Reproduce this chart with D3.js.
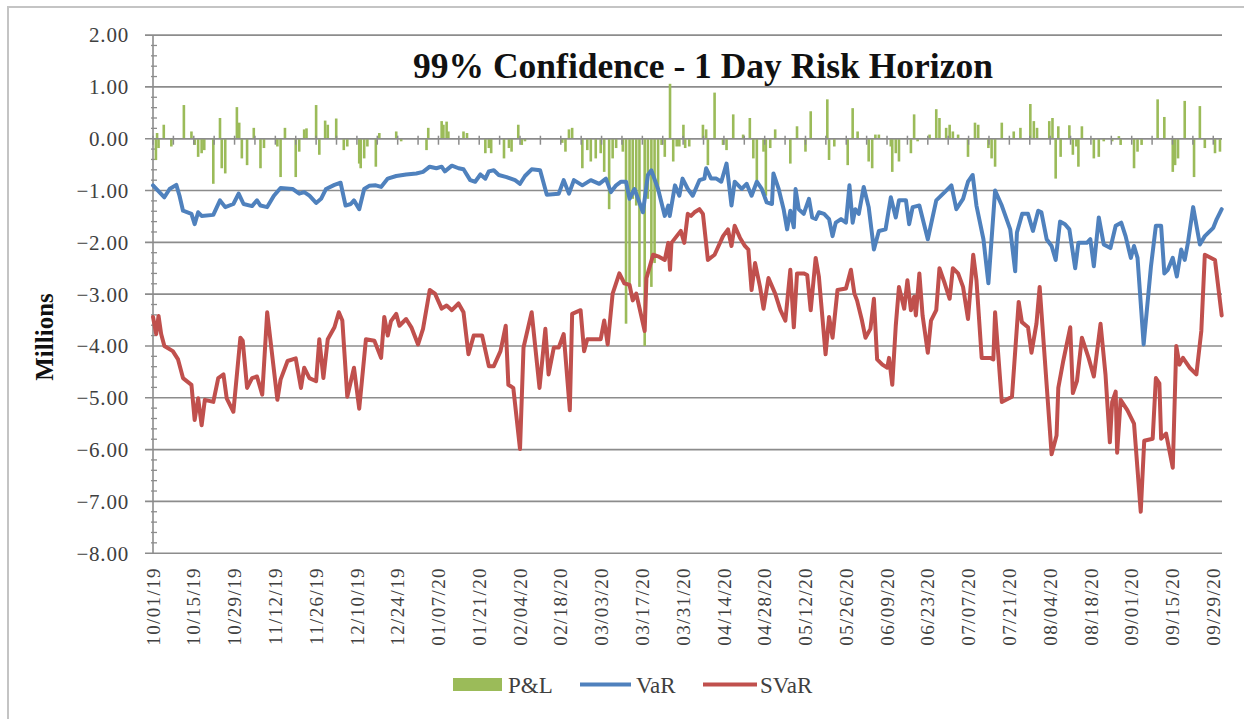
<!DOCTYPE html>
<html><head><meta charset="utf-8">
<script src="https://cdn.jsdelivr.net/npm/d3@7"></script>
<style>body{margin:0;background:#fff;} svg{display:block;}</style>
</head><body>
<svg id="c" width="1244" height="719"></svg>
<script>
// ---- data (days since 10/01/19, values in millions) ----
const tickLabels = ["10/01/19","10/15/19","10/29/19","11/12/19","11/26/19","12/10/19","12/24/19","01/07/20","01/21/20","02/04/20","02/18/20","03/03/20","03/17/20","03/31/20","04/14/20","04/28/20","05/12/20","05/26/20","06/09/20","06/23/20","07/07/20","07/21/20","08/04/20","08/18/20","09/01/20","09/15/20","09/29/20"];
const yTicks = [2,1,0,-1,-2,-3,-4,-5,-6,-7,-8];
const seriesNames = ["P&L","VaR","SVaR"];

const varDay = [0,3.9,5.7,8.0,9.1,10.3,13.2,14.3,15.5,16.7,20.7,23.0,24.8,27.6,29.4,31.1,34.0,35.7,36.9,39.2,41.5,43.8,47.9,50.2,51.9,53.7,56.0,57.7,59.4,62.3,64.4,66.1,67.9,69.0,70.8,72.5,74.2,76.5,78.3,80.6,83.5,86.9,90.4,92.7,95.0,97.3,99.1,100.2,102.6,104.9,106.6,108.9,110.6,112.4,114.1,115.3,117.0,118.7,121.4,124.3,126.0,127.7,130.0,132.9,135.2,139.3,141.0,142.8,144.5,147.4,150.3,153.2,155.5,157.2,159.0,160.7,162.4,163.6,165.3,168.2,169.9,171.1,173.4,175.7,176.9,177.4,179.2,180.7,181.8,183.6,185.3,187.6,189.3,189.9,191.6,193.4,195.1,196.9,198.6,199.7,202.1,203.8,205.5,207.3,209.0,210.7,212.5,213.0,214.8,216.5,217.7,218.8,220.0,220.6,221.7,223.4,225.2,226.3,227.5,228.6,230.4,232.1,233.3,234.4,236.2,237.9,239.1,240.2,241.1,242.3,244.0,245.7,247.5,249.2,251.5,253.3,255.0,256.1,258.5,259.6,260.8,263.1,266.0,268.9,271.8,274.1,275.8,278.1,279.8,281.4,282.7,285.1,286.8,289.1,291.4,294.3,296.0,296.6,298.4,300.4,302.1,303.9,305.0,306.8,308.5,309.9,311.4,313.1,314.6,316.6,317.7,320.6,321.8,323.0,324.7,326.4,328.7,330.5,332.4,333.9,335.7,336.8,338.0,340.1,342.6,344.3,346.1,347.2,348.4,350.1,351.5,353.0,354.2,355.3,357.1,359.4,361.1,364.0,365.2,366.9];
const varVal = [-0.90,-1.13,-0.97,-0.89,-1.10,-1.39,-1.45,-1.65,-1.42,-1.49,-1.47,-1.19,-1.32,-1.26,-1.06,-1.26,-1.30,-1.19,-1.29,-1.32,-1.10,-0.95,-0.97,-1.06,-1.03,-1.10,-1.24,-1.16,-0.97,-0.89,-0.85,-1.29,-1.26,-1.19,-1.36,-0.97,-0.91,-0.90,-0.93,-0.77,-0.72,-0.69,-0.67,-0.64,-0.54,-0.57,-0.54,-0.63,-0.52,-0.57,-0.59,-0.80,-0.83,-0.69,-0.77,-0.63,-0.61,-0.70,-0.74,-0.80,-0.87,-0.72,-0.59,-0.61,-1.08,-1.06,-0.80,-1.06,-0.80,-0.90,-0.80,-0.87,-0.77,-1.03,-0.90,-0.83,-0.83,-1.16,-0.97,-1.42,-0.70,-0.61,-0.97,-1.49,-1.29,-1.49,-0.90,-1.10,-0.77,-0.97,-1.10,-0.80,-0.77,-0.57,-0.77,-0.77,-0.83,-0.48,-1.29,-0.83,-0.97,-0.87,-1.10,-0.83,-0.97,-1.23,-1.26,-0.67,-0.97,-1.36,-1.75,-1.39,-1.71,-0.97,-1.36,-1.45,-1.16,-1.52,-1.55,-1.42,-1.45,-1.55,-1.88,-1.62,-1.55,-1.62,-0.90,-1.62,-1.36,-1.45,-0.93,-1.32,-2.14,-1.78,-1.75,-1.13,-1.52,-1.19,-1.19,-1.65,-1.32,-1.29,-1.94,-1.19,-1.03,-0.90,-1.36,-1.16,-0.83,-0.70,-1.29,-1.94,-2.79,-1.00,-1.29,-1.75,-2.56,-1.81,-1.45,-1.45,-1.78,-1.39,-1.42,-1.94,-2.07,-2.34,-1.60,-1.65,-1.75,-2.50,-2.01,-2.01,-1.94,-2.46,-1.52,-2.04,-2.11,-1.68,-1.62,-1.88,-2.30,-2.07,-2.30,-3.97,-2.47,-1.68,-1.68,-2.60,-2.53,-2.30,-2.66,-2.14,-2.34,-2.01,-1.32,-2.04,-1.88,-1.72,-1.55,-1.36];

const svarDay = [0,1.1,1.9,2.8,3.9,6.8,8.6,10.3,13.2,14.3,15.5,16.7,17.8,20.7,22.4,24.2,25.3,27.6,30.0,30.8,32.3,34.0,35.7,37.5,39.2,42.7,43.8,46.2,49.0,50.8,51.9,53.7,56.0,57.1,58.5,60.0,62.3,63.8,65.0,66.7,69.0,70.8,73.1,76.0,78.3,79.4,80.6,81.7,83.5,84.6,86.9,88.7,91.0,92.7,95.0,96.8,99.1,100.8,102.6,104.9,106.6,108.3,110.1,113.0,115.3,117.0,119.3,121.1,122.0,123.7,126.0,127.2,130.0,132.7,134.7,135.8,137.6,139.3,141.0,143.1,143.9,146.8,148.0,149.1,151.4,153.7,154.9,156.1,157.8,160.1,161.8,163.6,164.7,165.9,168.8,169.4,171.7,173.4,175.7,176.9,177.5,178.0,179.8,181.2,182.4,183.6,184.7,185.9,187.6,188.8,190.5,192.8,195.7,197.4,198.6,199.7,201.5,203.2,204.4,205.5,206.7,208.4,209.6,211.3,213.6,215.4,217.1,218.8,220.0,221.1,223.4,224.6,225.8,227.5,228.6,229.8,230.9,232.1,233.3,235.0,237.9,239.6,240.8,241.7,243.4,244.6,246.3,247.5,248.6,250.4,252.1,252.7,253.8,255.0,256.1,257.9,259.0,260.2,261.3,261.9,263.1,264.2,266.0,267.1,268.9,270.0,271.8,273.5,274.6,276.4,278.1,279.8,281.6,282.7,284.5,287.4,288.5,289.1,291.4,294.9,297.2,298.3,300.4,301.6,303.3,304.4,306.8,308.5,310.2,310.8,312.5,314.9,315.8,317.2,318.9,321.2,323.0,325.3,327.0,328.5,329.3,330.5,331.0,332.2,334.5,336.8,339.1,340.3,343.2,344.3,345.5,346.1,347.8,350.1,351.3,352.4,353.6,355.9,358.2,359.9,361.1,364.6,366.9];
const svarVal = [-3.44,-3.77,-3.42,-3.77,-4.00,-4.10,-4.26,-4.62,-4.75,-5.43,-5.01,-5.53,-5.04,-5.08,-4.62,-4.55,-5.01,-5.27,-3.84,-3.90,-4.81,-4.62,-4.59,-4.94,-3.35,-5.04,-4.65,-4.29,-4.24,-4.81,-4.42,-4.62,-4.68,-3.87,-4.62,-3.87,-3.64,-3.35,-3.51,-4.98,-4.42,-5.21,-3.87,-3.90,-4.23,-3.44,-3.80,-3.52,-3.38,-3.61,-3.48,-3.64,-3.97,-3.67,-2.92,-2.99,-3.28,-3.22,-3.31,-3.18,-3.35,-4.16,-3.80,-3.80,-4.39,-4.39,-4.10,-3.61,-4.75,-4.81,-5.99,-4.03,-3.35,-4.81,-3.67,-4.55,-4.03,-4.03,-3.77,-5.24,-3.38,-3.31,-4.10,-3.87,-3.87,-3.87,-3.51,-3.97,-2.99,-2.60,-2.79,-2.82,-3.12,-2.99,-3.71,-2.69,-2.24,-2.27,-2.34,-2.01,-2.53,-2.01,-1.88,-1.78,-2.01,-1.45,-1.49,-1.42,-1.36,-1.45,-2.34,-2.24,-1.88,-1.75,-2.07,-1.68,-1.91,-2.07,-2.14,-2.92,-2.40,-2.86,-3.28,-2.69,-2.99,-3.31,-3.51,-2.53,-3.64,-2.60,-2.60,-2.63,-3.31,-2.30,-2.66,-3.44,-4.16,-3.44,-3.84,-2.92,-2.89,-2.53,-2.99,-3.12,-3.51,-3.84,-3.67,-3.09,-4.26,-4.36,-4.42,-4.23,-4.75,-3.61,-2.86,-3.28,-2.73,-3.31,-3.05,-3.41,-2.60,-3.41,-4.13,-3.51,-3.31,-2.50,-2.79,-3.09,-2.50,-2.60,-2.86,-3.48,-2.24,-2.73,-4.23,-4.23,-4.26,-3.35,-5.08,-4.98,-3.15,-3.54,-3.64,-4.13,-3.57,-2.86,-4.75,-6.09,-5.73,-4.81,-4.29,-3.64,-4.91,-4.68,-3.84,-4.23,-4.59,-3.57,-4.55,-5.86,-5.08,-4.88,-6.06,-5.04,-5.24,-5.50,-7.20,-5.83,-5.79,-4.62,-4.72,-5.79,-5.69,-6.35,-4.00,-4.36,-4.23,-4.42,-4.55,-3.71,-2.24,-2.34,-3.41];

const pnlDay = [1.0,1.4,1.9,3.7,6.3,10.6,13.2,14.3,15.5,16.7,17.6,20.7,23.0,23.6,24.8,28.8,29.6,30.5,32.3,34.6,36.9,38.1,42.7,43.8,45.3,49.0,50.2,51.9,52.7,56.0,57.1,59.1,60.0,62.9,65.5,66.7,70.8,71.3,72.5,73.6,76.5,77.7,83.5,85.2,93.9,94.5,99.1,99.7,100.8,101.4,106.6,107.8,114.1,115.3,116.1,120.5,122.2,123.1,125.4,126.6,127.7,140.5,141.6,142.8,143.9,147.4,149.1,150.3,152.0,153.7,154.9,156.6,157.8,159.0,161.3,162.4,163.6,164.7,165.9,167.0,168.8,169.9,171.1,172.2,173.4,174.6,175.7,177.5,178.6,179.8,180.7,182.1,182.7,184.1,188.8,189.9,190.5,192.8,195.7,196.9,199.2,202.6,204.9,206.1,207.3,209.6,210.4,211.9,213.6,218.8,221.1,224.0,225.8,231.5,232.1,233.9,238.5,240.2,241.9,245.7,246.9,248.0,249.2,253.3,253.8,255.0,256.1,260.2,261.3,262.5,266.6,268.9,270.0,272.3,273.5,274.6,276.4,279.8,282.2,283.3,286.8,287.9,289.1,291.4,295.5,297.8,301.2,302.4,303.5,307.7,308.8,309.9,310.8,311.6,314.6,315.8,317.0,317.7,318.9,323.0,324.7,326.4,329.3,331.6,332.2,336.8,338.0,339.4,344.9,347.2,350.1,350.9,351.9,354.2,357.4,359.4,361.1,364.6,366.3];
const pnlVal = [-0.41,0.11,-0.18,0.27,-0.15,0.65,0.14,-0.12,-0.35,-0.28,-0.22,-0.87,0.40,-0.57,-0.67,0.61,0.31,-0.38,-0.51,0.21,-0.57,-0.18,-0.15,-0.74,0.21,-0.74,-0.25,0.18,0.20,0.65,-0.31,0.35,0.27,0.39,-0.22,-0.15,-0.48,-0.57,-0.38,-0.15,-0.54,0.11,0.14,-0.05,-0.22,0.21,0.34,0.27,0.33,0.14,0.14,0.11,-0.28,-0.18,-0.28,-0.38,-0.18,-0.25,0.27,-0.12,-0.05,-0.08,-0.25,0.18,0.21,-0.57,-0.22,-0.44,-0.38,-0.28,-0.64,-1.36,-0.38,-0.18,-0.25,-3.57,-2.86,-1.16,-1.29,-2.86,-4.00,-1.16,-2.86,-2.40,-1.03,-0.12,-0.35,1.06,-0.44,-0.15,-0.15,0.27,-0.18,-0.15,0.27,0.18,-0.51,0.89,-0.12,-0.22,0.47,0.08,0.40,-0.38,-0.80,-0.25,-1.10,-0.18,0.18,-0.48,0.24,-0.25,0.53,0.76,-0.41,-0.15,-0.51,0.59,0.14,-0.44,-0.57,0.08,0.08,-0.15,-0.64,-0.28,-0.44,-0.28,0.47,-0.05,0.08,0.57,0.40,0.21,0.27,0.14,0.08,-0.35,0.31,0.27,-0.18,-0.38,-0.54,0.31,0.14,0.21,0.67,0.34,0.21,0.34,0.40,-0.77,0.24,-0.35,0.26,-0.31,-0.15,-0.54,0.24,-0.38,-0.35,-0.05,-0.05,0.05,-0.12,-0.57,-0.25,-0.12,0.76,0.42,-0.64,-0.51,-0.38,0.73,-0.74,0.63,-0.18,-0.28,-0.25];

// ---- layout ----
const svg = d3.select("#c");
const DAY = 86400000;
const start = Date.UTC(2019, 9, 1);
const toDate = d => new Date(start + d * DAY);
const parse = d3.utcParse("%m/%d/%y");
const x = d3.scaleUtc().domain([toDate(0), toDate(367)]).range([153, 1222]);
const y = d3.scaleLinear().domain([-8, 2]).range([553.2, 35.1]);
const serif = "'Liberation Serif','DejaVu Serif',serif";
const colors = {pnl: "#9BBB59", var: "#4F81BD", svar: "#C0504D"};
const gridCol = "#8c8c8c";
const X0 = x.range()[0], X1 = x.range()[1];

// chart border (only left and top edges fall inside the picture)
svg.append("rect").attr("x", 8).attr("y", 7).attr("width", 1260).attr("height", 740)
  .attr("fill", "#fff").attr("stroke", "#c4c4c4").attr("stroke-width", 2);

// gridlines (with outer major tick)
svg.append("g").selectAll("line").data(yTicks).join("line")
  .attr("x1", X0 - 8).attr("x2", X1)
  .attr("y1", d => y(d)).attr("y2", d => y(d))
  .attr("stroke", gridCol).attr("stroke-width", 1.6);

// y minor ticks
const minor = d3.range(-8, 2.001, 0.2).filter(v => Math.abs(v - Math.round(v)) > 1e-6);
svg.append("g").selectAll("line").data(minor).join("line")
  .attr("x1", X0 - 2).attr("x2", X0 + 4)
  .attr("y1", d => y(d)).attr("y2", d => y(d))
  .attr("stroke", gridCol).attr("stroke-width", 1.3);

// y axis line
svg.append("line").attr("x1", X0).attr("x2", X0)
  .attr("y1", y(2)).attr("y2", y(-8)).attr("stroke", gridCol).attr("stroke-width", 1.6);

// y labels
svg.append("g").selectAll("text").data(yTicks).join("text")
  .attr("x", 129).attr("y", d => y(d)).attr("dy", "0.35em")
  .attr("text-anchor", "end").attr("font-family", serif).attr("font-size", 21)
  .attr("letter-spacing", 0.8).attr("fill", "#404040")
  .text(d => d3.format(".2f")(d));

// P&L bars
const pnl = pnlDay.map((d, i) => ({d, v: pnlVal[i]}));
svg.append("g").selectAll("rect").data(pnl).join("rect")
  .attr("x", p => x(toDate(p.d)) - 1.3).attr("width", 2.6)
  .attr("y", p => y(Math.max(0, p.v))).attr("height", p => Math.abs(y(p.v) - y(0)))
  .attr("fill", colors.pnl);

// zero axis line + weekly ticks
svg.append("line").attr("x1", X0).attr("x2", X1)
  .attr("y1", y(0)).attr("y2", y(0)).attr("stroke", gridCol).attr("stroke-width", 1.6);
const weekly = d3.range(0, 365, 7).map(toDate);
svg.append("g").selectAll("line").data(weekly).join("line")
  .attr("x1", d => x(d)).attr("x2", d => x(d))
  .attr("y1", y(0) - 3).attr("y2", y(0) + 6)
  .attr("stroke", gridCol).attr("stroke-width", 1.5);

// lines
const line = d3.line().x(p => x(toDate(p.d))).y(p => y(p.v));
const varPts = varDay.map((d, i) => ({d, v: varVal[i]}));
const svarPts = svarDay.map((d, i) => ({d, v: svarVal[i]}));
svg.append("path").datum(varPts).attr("d", line).attr("fill", "none")
  .attr("stroke", colors.var).attr("stroke-width", 4).attr("stroke-linejoin", "round").attr("stroke-linecap", "round");
svg.append("path").datum(svarPts).attr("d", line).attr("fill", "none")
  .attr("stroke", colors.svar).attr("stroke-width", 4).attr("stroke-linejoin", "round").attr("stroke-linecap", "round");

// x labels
svg.append("g").selectAll("text").data(tickLabels).join("text")
  .attr("transform", t => `translate(${x(parse(t))},567) rotate(-90)`)
  .attr("dy", "0.35em").attr("text-anchor", "end")
  .attr("font-family", serif).attr("font-size", 19).attr("letter-spacing", 1.4)
  .attr("fill", "#404040").text(t => t);

// title
svg.append("text").attr("x", 703).attr("y", 78).attr("text-anchor", "middle")
  .attr("font-family", serif).attr("font-weight", "bold").attr("font-size", 35.5)
  .attr("fill", "#111").text("99% Confidence - 1 Day Risk Horizon");

// y axis title
svg.append("text").attr("transform", "translate(53,337) rotate(-90)")
  .attr("text-anchor", "middle").attr("font-family", serif).attr("font-weight", "bold")
  .attr("font-size", 25).attr("fill", "#111").text("Millions");

// legend
const lg = svg.append("g").attr("font-family", serif).attr("font-size", 23).attr("fill", "#404040");
lg.append("rect").attr("x", 453).attr("y", 678).attr("width", 49).attr("height", 13).attr("fill", colors.pnl);
lg.append("text").attr("x", 508).attr("y", 693).text(seriesNames[0]);
lg.append("line").attr("x1", 580).attr("x2", 631).attr("y1", 684.5).attr("y2", 684.5)
  .attr("stroke", colors.var).attr("stroke-width", 4);
lg.append("text").attr("x", 636).attr("y", 693).text(seriesNames[1]);
lg.append("line").attr("x1", 703).attr("x2", 757).attr("y1", 684.5).attr("y2", 684.5)
  .attr("stroke", colors.svar).attr("stroke-width", 4);
lg.append("text").attr("x", 760).attr("y", 693).text(seriesNames[2]);
</script>
</body></html>
